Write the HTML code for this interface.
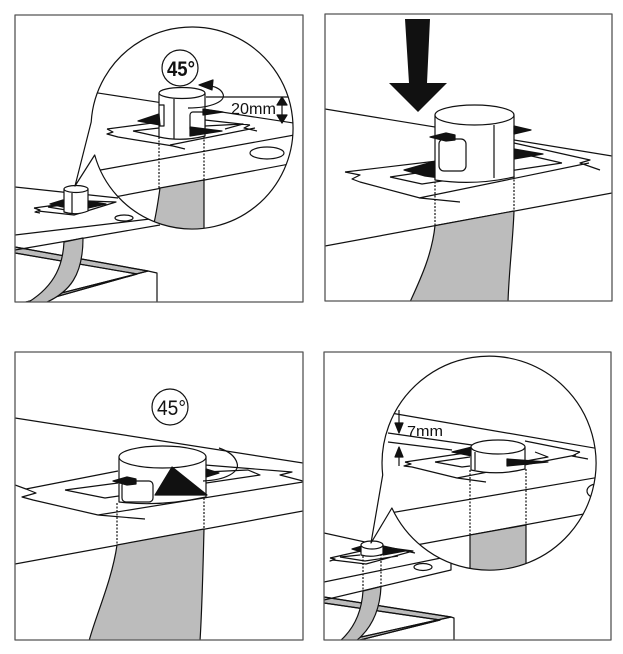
<!DOCTYPE html>
<html><head><meta charset="utf-8"><style>
html,body{margin:0;padding:0;background:#fff;width:623px;height:654px;overflow:hidden}
svg{display:block}
text{font-family:"Liberation Sans",Arial,sans-serif;fill:#111;stroke:none}
</style></head><body>
<svg width="623" height="654" viewBox="0 0 623 654" xmlns="http://www.w3.org/2000/svg">
<defs>
<clipPath id="p1"><rect x="15" y="15" width="288" height="287"/></clipPath>
<clipPath id="p2"><rect x="325" y="14" width="287" height="287"/></clipPath>
<clipPath id="p3"><rect x="15" y="352" width="288" height="288"/></clipPath>
<clipPath id="p4"><rect x="324" y="352" width="287" height="288"/></clipPath>
<clipPath id="c1"><circle cx="192" cy="128" r="101"/></clipPath>
<clipPath id="c4"><circle cx="489" cy="463" r="107"/></clipPath>
</defs>
<rect x="0" y="0" width="623" height="654" fill="#fff"/>
<g fill="none" stroke="#111" stroke-width="1.2" stroke-linejoin="round">

<!-- ================= PANEL 1 ================= -->
<g clip-path="url(#p1)">
 <polygon points="15,247 148,271 22,303 34,303 137,274 15,253" fill="#bcbcbc"/>
 <path d="M15,247 L148,271 L22,303 M15,253 L137,274 L34,303 M148,271 L157,273 L157,303"/>
 <path d="M15,187 L118,198 M15,235 L150,219 M15,250 L160,225"/>
 <ellipse cx="124" cy="218" rx="9" ry="3"/>
 <path d="M64,242 C63,262 57,285 27,303 L45,303 C70,292 83,275 83,238 Z" fill="#bcbcbc"/>
 <path d="M34,208 L63,204 M88,201 L116,202 L74,215 L38,211 M34,208 L40,210 L35,212 L40,213 M48,207 L62,205 M48,207 L72,211 M90,206 L104,204"/>
 <polygon points="50,204 63,200 63,207" fill="#111"/>
 <polygon points="88,201 106,204 88,208" fill="#111"/>
 <path d="M64,189 L64,212 Q76,216 88,211 L88,189 Z" fill="#fff"/>
 <ellipse cx="76" cy="189" rx="12" ry="3.5" fill="#fff"/>
 <path d="M72,193 L72,214"/>
 <path d="M94.7,155 A101,101 0 1 0 91.2,122 L75,186 Z" fill="#fff" stroke="none"/>
 <g clip-path="url(#c1)">
  <path d="M85,91 L300,124"/>
  <path d="M95,171 L300,134 M88,202 L300,162"/>
  <ellipse cx="267" cy="153" rx="17" ry="6"/>
  <path d="M160,188 C158,202 156,218 151,235 L204,235 L204,180 Z" fill="#bcbcbc"/>
  <path d="M159,137 L159,188 M204,136 L204,180" stroke-dasharray="2,1.5"/>
  <path d="M107,129 L160,122 M205,120 L250,125 M107,129 L113,132 L107,134 L118,137 L173,146 L185,149 M170,145 L255,128 M250,125 L244,128 L257,131 M133,131 L159,128 M133,131 L160,137 M205,126 L243,124 L225,129"/>
  <path d="M159,93 L159,137 Q182,142 205,136 L205,93 Z" fill="#fff"/>
  <ellipse cx="182" cy="93" rx="23" ry="5.5" fill="#fff"/>
  <path d="M174,99 L174,139 M159,105 L164,105 L164,126 L159,126"/>
  <rect x="190" y="112" width="15" height="20" rx="3" fill="#fff"/>
  <polygon points="138,121 159,114 160,125" fill="#111"/>
  <polygon points="190,127 222,131 190,136" fill="#111"/>
  <polygon points="203,109 223,112 203,115" fill="#111"/>
  <path d="M188,108 C212,108 226,101 223,94 C221,89 216,87 211,86"/>
  <polygon points="199,85 213,80 212,90" fill="#111"/>
  <path d="M206,97 L290,97 M282,103 L282,117"/>
  <polygon points="282,97 277,105 287,105" fill="#111"/>
  <polygon points="282,123 277,115 287,115" fill="#111"/>
  <text x="231" y="114" font-size="15.5" textLength="45" lengthAdjust="spacingAndGlyphs">20mm</text>
  <circle cx="180" cy="68" r="18" fill="#fff"/>
  <text x="167" y="76" font-size="21" font-weight="bold" textLength="28" lengthAdjust="spacingAndGlyphs">45°</text>
 </g>
 <path d="M94.7,155 A101,101 0 1 0 91.2,122 L75,186 Z"/>
</g>
<rect x="15" y="15" width="288" height="287" stroke="#555" stroke-width="1.3"/>

<!-- ================= PANEL 2 ================= -->
<g clip-path="url(#p2)">
 <path d="M325,109 L612,156 M325,246 L612,193"/>
 <path d="M435,225.6 C432,255 420,280 410,302 L508,302 C509,270 513,240 514,211 Z" fill="#bcbcbc"/>
 <path d="M435,178 L435,225 M514,176 L514,211" stroke-dasharray="2,1.5"/>
 <path d="M345,172 L437,161 M345,172 L360,175 L352,179 L360,182 L420,198 L460,202 M419,198 L589,163 M514,143 L590,160 L580,163 L600,170 M390,177 L437,170 M390,177 L422,184 L562,163 M514,152 L562,163"/>
 <polygon points="404,170 436,161 438,173 466,168 466,173 440,178 425,176" fill="#111"/>
 <polygon points="514,149 543,154 514,159" fill="#111"/>
 <path d="M435,115 L435,180 Q474,186 514,177 L514,115 Z" fill="#fff"/>
 <ellipse cx="474.5" cy="115" rx="39.5" ry="10" fill="#fff"/>
 <path d="M494,125 L494,178"/>
 <rect x="439" y="139" width="27" height="32" rx="5" fill="#fff"/>
 <polygon points="430,137 446,133 455,135 455,140 446,141" fill="#111"/>
 <polygon points="514,126 531,130 514,134" fill="#111"/>
 <polygon points="405,19 430,19 427,83 447,83 418,112 389,83 409,83" fill="#111" stroke="none"/>
</g>
<rect x="325" y="14" width="287" height="287" stroke="#555" stroke-width="1.3"/>

<!-- ================= PANEL 3 ================= -->
<g clip-path="url(#p3)">
 <path d="M15,418 L303,463 M15,564 L303,511"/>
 <path d="M117,545 C112,580 96,615 89,641 L200,641 C202,610 203,570 204,529 Z" fill="#bcbcbc"/>
 <path d="M117,503 L117,545 M204,498 L204,529" stroke-dasharray="2,1.5"/>
 <path d="M15,485 L26,489 L118,471 M26,489 L36,493 L22,497 L33,500 L98,515 L145,519 M98,515 L303,482 M205,465 L292,472 L280,475 L303,481 M65,490 L118,483 M65,490 L105,498 L260,475 L248,470 L205,472"/>
 <path d="M119,457 L119,502 Q160,507 206,497 L206,457 Z" fill="#fff"/>
 <ellipse cx="162.5" cy="457" rx="43.5" ry="11" fill="#fff"/>
 <rect x="122" y="481" width="31" height="21" rx="4" fill="#fff"/>
 <polygon points="113,481 127,477 136,479 136,484 127,485" fill="#111"/>
 <polygon points="206,469 219,473 206,477" fill="#111"/>
 <polygon points="155,495 172,467 207,495" fill="#111"/>
 <path d="M203,481 C226,480 240,472 237,463 C235,456 228,451 219,448"/>
 <circle cx="170" cy="407" r="18" fill="#fff"/>
 <text x="157" y="415" font-size="21" textLength="29" lengthAdjust="spacingAndGlyphs">45°</text>
</g>
<rect x="15" y="352" width="288" height="288" stroke="#555" stroke-width="1.3"/>

<!-- ================= PANEL 4 ================= -->
<g clip-path="url(#p4)">
 <polygon points="324,597 451,617 343,641 356,641 440,620 324,603" fill="#bcbcbc"/>
 <path d="M324,597 L451,617 L343,641 M324,603 L440,620 L356,641 M451,617 L454,618 L454,641"/>
 <path d="M324,533 L415,553 M324,582 L441,558 M324,600 L451,570 L451,562"/>
 <ellipse cx="423" cy="567" rx="9" ry="3.5"/>
 <path d="M363,591 C362,607 357,626 340,641 L356,641 C372,628 380,610 381,586.5 Z" fill="#bcbcbc"/>
 <path d="M363,556 L363,591 M381,554 L381,586" stroke-dasharray="2,1.5"/>
 <path d="M330,558 L361,551 M383,547 L413,551 L366,564 L333,560 M330,558 L335,559 L330,561 L333,560 M340,557 L360,555 M340,557 L365,561 L398,556"/>
 <polygon points="352,549 362,546 362,552" fill="#111"/>
 <polygon points="383,548 405,551 383,555" fill="#111"/>
 <path d="M361,545 L361,555 Q372,558 383,554 L383,545 Z" fill="#fff"/>
 <ellipse cx="372" cy="545" rx="11" ry="4" fill="#fff"/>
 <path d="M391.9,508 A107,107 0 1 0 382.7,475 L371,543 Z" fill="#fff" stroke="none"/>
 <g clip-path="url(#c4)">
  <path d="M385,412 L600,449"/>
  <path d="M388,433 L472,445 M525,441 L580,452 M388,442 L452,450"/>
  <path d="M390,513 L600,477 M400,548 L600,511"/>
  <ellipse cx="597" cy="491" rx="10" ry="7"/>
  <path d="M470,535 L526,525 L526,580 L470,580 Z" fill="#bcbcbc"/>
  <path d="M470,470 L470,535 M526,469 L526,525" stroke-dasharray="2,1.5"/>
  <path d="M405,462 L472,452 M405,462 L411,464 L404,466 L412,467 L457,478 L486,482 M457,478 L576,455 M580,452 L572,456 L588,459 M435,462 L470,457 M435,462 L462,467 L470,466 M526,461 L548,457 L535,452"/>
  <polygon points="452,452 472,447 472,456" fill="#111"/>
  <path d="M471,447 L471,470 Q498,476 525,469 L525,447 Z" fill="#fff"/>
  <ellipse cx="498" cy="447" rx="27" ry="7" fill="#fff"/>
  <path d="M475,452 L475,470"/>
  <polygon points="507,459 548,462 507,466" fill="#111"/>
  <path d="M399,410 L399,424 M399,456 L399,466"/>
  <polygon points="395,423 403,423 399,433" fill="#111"/>
  <polygon points="395,457 403,457 399,447" fill="#111"/>
  <text x="407" y="436" font-size="15" textLength="36" lengthAdjust="spacingAndGlyphs">7mm</text>
 </g>
 <path d="M391.9,508 A107,107 0 1 0 382.7,475 L371,543 Z"/>
</g>
<rect x="324" y="352" width="287" height="288" stroke="#555" stroke-width="1.3"/>

</g>
</svg>
</body></html>
